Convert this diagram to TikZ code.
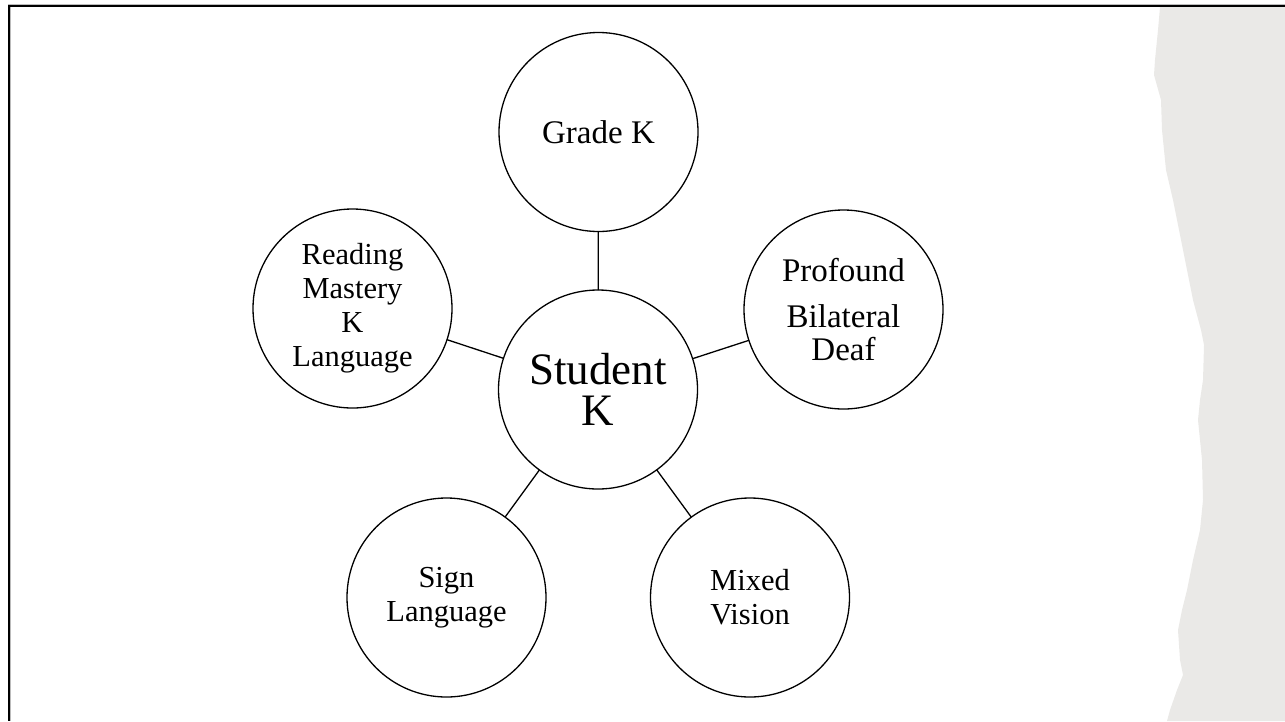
\documentclass[tikz,border=0pt]{standalone}
\usepackage{fontspec}
\setmainfont{Liberation Serif}
\definecolor{paper}{HTML}{EAE9E7}
\definecolor{edgegray}{HTML}{BBBBBB}
\begin{document}
\begin{tikzpicture}[x=1pt,y=-1pt,
  bubble/.style={circle,draw=black,line width=1.3pt,minimum size=199pt,inner sep=0pt,outer sep=0pt,align=center,fill=white},
  big/.style={font=\fontsize{45}{41.5}\selectfont},
  mid/.style={font=\fontsize{33}{33}\selectfont},
  small/.style={font=\fontsize{30.5}{34}\selectfont},
  link/.style={draw=black,line width=1.3pt}]
\useasboundingbox (0,0) rectangle (1285,721);
% torn paper on the right
\fill[paper] (1160,7) -- (1158,30) -- (1155,60) -- (1154,75) -- (1161,100) -- (1162,130)
  -- (1166,170) -- (1173,200) -- (1179,230) -- (1187,270) -- (1193,300) -- (1201,330)
  -- (1204,345) -- (1203,380) -- (1200,400) -- (1198,420) -- (1202,460) -- (1203,500)
  -- (1200,530) -- (1193,560) -- (1187,590) -- (1182,610) -- (1178,630) -- (1180,660)
  -- (1183,675) -- (1177,690) -- (1170,710) -- (1167,721) -- (1285,721) -- (1285,7) -- cycle;
% frame
\draw[edgegray,line width=1pt] (8,4.3) -- (1285,4.3);
\draw[edgegray,line width=1pt] (10.6,7) -- (10.6,721);
\draw[black,line width=2pt] (8,6) -- (1285,6);
\draw[black,line width=2pt] (9,5) -- (9,721);
% bubbles
\node[bubble,big] (c) at (598,389.5) {Student\\K};
\node[bubble,mid] (g) at (598.5,132) {Grade K};
\node[bubble,mid] (p) at (843.5,309.5) {Profound\\[13pt]Bilateral\\Deaf};
\node[bubble,small] (r) at (352.5,308.5) {Reading\\Mastery\\K\\Language};
\node[bubble,small] (s) at (446.5,597.5) {Sign\\Language};
\node[bubble,small] (m) at (750,597.5) {Mixed\\Vision};
% links
\draw[link] (c) -- (g);
\draw[link] (c) -- (p);
\draw[link] (c) -- (r);
\draw[link] (c) -- (s);
\draw[link] (c) -- (m);
\end{tikzpicture}
\end{document}
